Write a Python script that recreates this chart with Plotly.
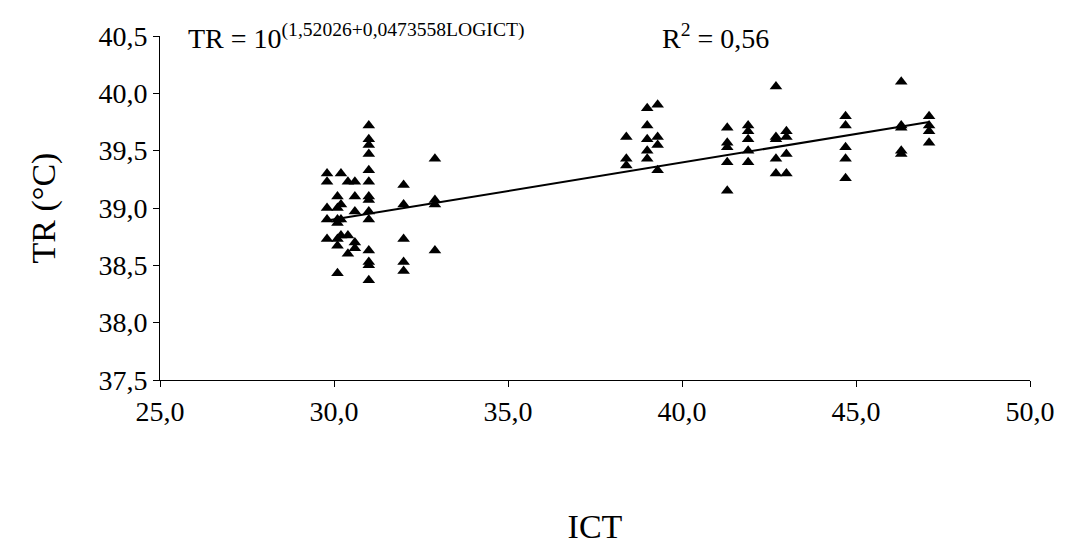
import plotly.graph_objects as go

# Observed data (ICT, TR)
ict_levels = [29.8, 30.1, 30.2, 30.4, 30.6, 31.0, 32.0, 32.9, 38.4, 39.0, 39.3,
              41.3, 41.9, 42.7, 43.0, 44.7, 46.3, 47.1]
tr_groups = [
    [39.30, 39.23, 39.00, 38.90, 38.73],
    [38.43, 38.67, 38.73, 38.87, 38.90, 39.10, 39.00],
    [39.30, 39.03, 38.76, 38.90],
    [38.60, 38.76, 39.23],
    [38.65, 38.70, 38.97, 39.10, 39.23],
    [39.72, 39.60, 39.55, 39.47, 39.33, 39.23, 39.10, 39.07, 38.97, 38.90, 38.63, 38.53, 38.50, 38.37],
    [39.20, 39.03, 38.73, 38.53, 38.45],
    [39.43, 39.07, 39.03, 38.63],
    [39.62, 39.43, 39.37],
    [39.87, 39.72, 39.60, 39.50, 39.43],
    [39.90, 39.62, 39.55, 39.33],
    [39.70, 39.57, 39.53, 39.40, 39.15],
    [39.72, 39.67, 39.60, 39.50, 39.40],
    [40.06, 39.62, 39.60, 39.43, 39.30],
    [39.67, 39.62, 39.47, 39.30],
    [39.80, 39.72, 39.53, 39.43, 39.26],
    [40.10, 39.72, 39.70, 39.50, 39.47],
    [39.80, 39.72, 39.67, 39.57],
]
# Fitted line endpoints
fit_x = [29.8, 47.1]
fit_y = [38.89, 39.75]

xs, ys = [], []
for x, grp in zip(ict_levels, tr_groups):
    xs += [x] * len(grp)
    ys += grp

fig = go.Figure()
fig.add_trace(go.Scatter(x=xs, y=ys, mode='markers',
                         marker=dict(symbol='triangle-up', size=11, color='black')))
fig.add_trace(go.Scatter(x=fit_x, y=fit_y, mode='lines', line=dict(color='black', width=2)))

fig.update_xaxes(range=[25, 50], tickvals=[25, 30, 35, 40, 45, 50],
                 ticktext=['25,0', '30,0', '35,0', '40,0', '45,0', '50,0'],
                 showline=True, linecolor='black', ticks='outside', tickcolor='black',
                 ticklen=6, showgrid=False, zeroline=False,
                 title=dict(text='ICT', standoff=88))
fig.update_yaxes(range=[37.5, 40.5], tickvals=[37.5, 38, 38.5, 39, 39.5, 40, 40.5],
                 ticktext=['37,5', '38,0', '38,5', '39,0', '39,5', '40,0', '40,5'],
                 showline=True, linecolor='black', ticks='outside', tickcolor='black',
                 ticklen=6, showgrid=False, zeroline=False,
                 title=dict(text='TR (°C)', standoff=32))
fig.add_annotation(x=0.03, y=40.5, xref='paper', yref='y', xanchor='left', yanchor='middle',
                   showarrow=False, font=dict(size=28),
                   text='TR = 10<sup>(1,52026+0,0473558LOGICT)</sup>')
fig.add_annotation(x=0.575, y=40.5, xref='paper', yref='y', xanchor='left', yanchor='middle',
                   showarrow=False, font=dict(size=28), text='R<sup>2</sup> = 0,56')
fig.update_layout(width=1071, height=543, showlegend=False,
                  plot_bgcolor='white', paper_bgcolor='white',
                  font=dict(family='Liberation Serif', size=28, color='black'),
                  margin=dict(l=152, r=49, t=28, b=171))
fig.write_html('out.html')
